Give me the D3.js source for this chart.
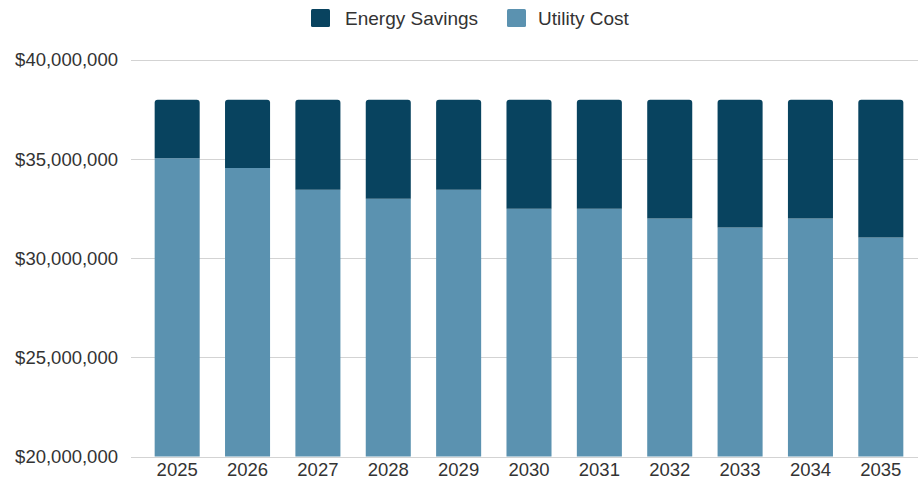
<!DOCTYPE html>
<html>
<head>
<meta charset="utf-8">
<script src="https://cdn.jsdelivr.net/npm/d3@7"></script>
<style>
  html, body { margin: 0; padding: 0; background: #fff; }
  svg { display: block; }
  text { font-family: "Liberation Sans", Arial, sans-serif; }
</style>
</head>
<body>
<svg id="chart" width="919" height="492"></svg>
<script>
const years = ["2025","2026","2027","2028","2029","2030","2031","2032","2033","2034","2035"];
const utilityCost = [35050000, 34550000, 33450000, 33000000, 33450000, 32500000, 32500000, 32000000, 31550000, 32000000, 31050000];
const energySavings = [2950000, 3450000, 4550000, 5000000, 4550000, 5500000, 5500000, 6000000, 6450000, 6000000, 6950000];
const yTicks = [20000000, 25000000, 30000000, 35000000, 40000000];
const seriesNames = ["Energy Savings", "Utility Cost"];
const colors = { "Energy Savings": "#08435f", "Utility Cost": "#5b92b0" };

const svg = d3.select("#chart");

const x = d3.scaleBand().domain(years).range([142, 916]).paddingInner(0.36).paddingOuter(0.18);
const y = d3.scaleLinear().domain([20000000, 40000000]).range([456.5, 60]);

// gridlines
svg.append("g").selectAll("line").data(yTicks).join("line")
  .attr("x1", 131).attr("x2", 918)
  .attr("y1", d => Math.round(y(d)) + 0.5).attr("y2", d => Math.round(y(d)) + 0.5)
  .attr("stroke", "#d3d3d3").attr("stroke-width", 1.2);

// y axis labels
const fmt = d3.format("$,.0f");
svg.append("g").selectAll("text").data(yTicks).join("text")
  .attr("x", 118).attr("y", d => y(d)).attr("dy", "0.35em")
  .attr("text-anchor", "end").attr("font-size", 18.5).attr("fill", "#333")
  .text(d => fmt(d));

// stack
const data = years.map((yr, i) => ({ year: yr, "Utility Cost": utilityCost[i], "Energy Savings": energySavings[i] }));
const stack = d3.stack().keys(["Utility Cost", "Energy Savings"]);
const series = stack(data);
const base = 20000000;

const r = 3;
function barPath(x0, w, yTop, yBot, rounded) {
  if (!rounded) return `M${x0},${yBot}V${yTop}H${x0 + w}V${yBot}Z`;
  return `M${x0},${yBot}V${yTop + r}Q${x0},${yTop} ${x0 + r},${yTop}H${x0 + w - r}Q${x0 + w},${yTop} ${x0 + w},${yTop + r}V${yBot}Z`;
}

series.forEach((s, si) => {
  svg.append("g").selectAll("path").data(s).join("path")
    .attr("fill", colors[s.key])
    .attr("d", d => {
      const lo = Math.max(d[0], base);
      return barPath(x(d.data.year), x.bandwidth(), y(d[1]), y(lo), si === series.length - 1);
    });
});

// x labels
svg.append("g").selectAll("text").data(years).join("text")
  .attr("x", d => x(d) + x.bandwidth() / 2).attr("y", 476)
  .attr("text-anchor", "middle").attr("font-size", 18.5).attr("fill", "#333")
  .text(d => d);

// legend
const legendItems = [
  { name: seriesNames[0], sx: 311, tx: 345 },
  { name: seriesNames[1], sx: 507, tx: 538 }
];
const lg = svg.append("g");
legendItems.forEach(it => {
  lg.append("rect").attr("x", it.sx).attr("y", 9).attr("width", 19).attr("height", 18)
    .attr("rx", 1.5).attr("fill", colors[it.name]);
  lg.append("text").attr("x", it.tx).attr("y", 24.5).attr("font-size", 19).attr("fill", "#333").text(it.name);
});
</script>
</body>
</html>
